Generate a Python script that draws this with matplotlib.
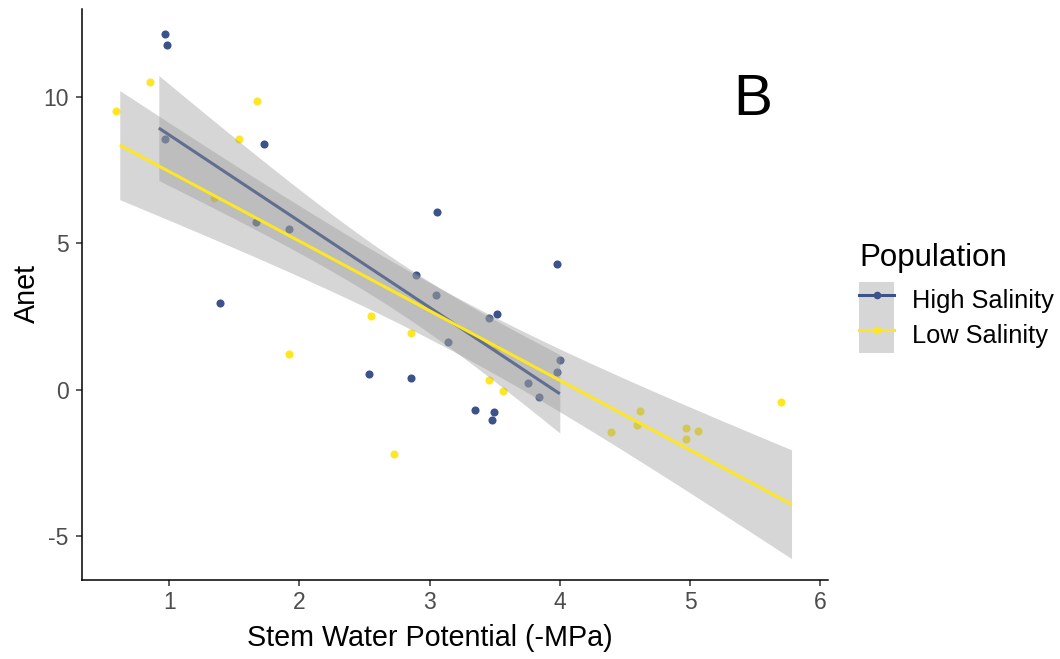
import numpy as np
import matplotlib
matplotlib.use("Agg")
import matplotlib.pyplot as plt
from matplotlib.lines import Line2D
from matplotlib.patches import Patch
from matplotlib.legend_handler import HandlerTuple

plt.rcParams['font.family'] = ['Liberation Sans', 'DejaVu Sans']
plt.rcParams['axes.unicode_minus'] = False

# High Salinity population
high_x = [0.97, 0.98, 0.97, 1.73, 1.665, 1.923, 1.39, 2.893, 3.057, 3.047, 3.139,
          3.517, 3.458, 3.978, 4.00, 3.98, 3.755, 3.837, 2.535, 2.855, 3.351, 3.494, 3.481]
high_y = [12.13, 11.77, 8.56, 8.40, 5.71, 5.50, 2.97, 3.91, 6.07, 3.23, 1.64,
          2.60, 2.44, 4.29, 1.02, 0.59, 0.23, -0.25, 0.55, 0.41, -0.71, -0.76, -1.04]

# Low Salinity population
low_x = [0.59, 0.85, 1.675, 1.535, 1.343, 2.548, 2.855, 1.923, 3.458, 3.563, 2.724,
         3.51, 4.39, 4.592, 4.615, 4.968, 5.065, 4.968, 5.70]
low_y = [9.51, 10.50, 9.87, 8.56, 6.55, 2.50, 1.92, 1.23, 0.33, -0.03, -2.20,
         1.43, -1.46, -1.20, -0.72, -1.30, -1.40, -1.68, -0.41]

# x span of each fitted smooth
high_span = [0.92, 4.00]
low_span = [0.62, 5.78]

groups = ["High Salinity", "Low Salinity"]
colors = {"High Salinity": "#3B528B", "Low Salinity": "#FDE725"}
band_col = "#999999"


def t_quant(df, z=1.644854):
    # Cornish-Fisher approximation of the t quantile (90% band)
    return (z + (z**3 + z) / (4 * df)
            + (5 * z**5 + 16 * z**3 + 3 * z) / (96 * df**2))


def lm_band(x, y, span, n=80):
    x = np.asarray(x)
    y = np.asarray(y)
    b1, b0 = np.polyfit(x, y, 1)
    resid = y - (b0 + b1 * x)
    dof = len(x) - 2
    s = np.sqrt(np.sum(resid**2) / dof)
    sxx = np.sum((x - x.mean())**2)
    xs = np.linspace(span[0], span[1], n)
    fit = b0 + b1 * xs
    se = s * np.sqrt(1 / len(x) + (xs - x.mean())**2 / sxx)
    t = t_quant(dof)
    return xs, fit, fit - t * se, fit + t * se


W, H = 1060, 659
fig = plt.figure(figsize=(W / 100, H / 100), dpi=100)
ax = fig.add_axes([82 / W, 1 - 580 / H, (828 - 82) / W, (580 - 9) / H])

ax.scatter(high_x, high_y, s=34, color=colors["High Salinity"], linewidths=0, zorder=2)
ax.scatter(low_x, low_y, s=34, color=colors["Low Salinity"], linewidths=0, zorder=2)

z = 3
for name, xv, yv, span in [("High Salinity", high_x, high_y, high_span),
                           ("Low Salinity", low_x, low_y, low_span)]:
    xs, fit, lo, hi = lm_band(xv, yv, span)
    ax.fill_between(xs, lo, hi, color=band_col, alpha=0.4, linewidth=0, zorder=z)
    ax.plot(xs, fit, color=colors[name], linewidth=2.2, zorder=z + 1,
            solid_capstyle='butt')
    z += 2

ax.text(5.48, 9.9, "B", fontsize=42, ha='center', va='center', color='black', zorder=10)

ax.set_xlim(0.33, 6.06)
ax.set_ylim(-6.5, 13.0)
ax.set_xticks([1, 2, 3, 4, 5, 6])
ax.set_yticks([-5, 0, 5, 10])
ax.spines['top'].set_visible(False)
ax.spines['right'].set_visible(False)
for sp in ['left', 'bottom']:
    ax.spines[sp].set_linewidth(1.1)
    ax.spines[sp].set_color('black')
ax.tick_params(axis='both', length=4.5, width=1.1, color='#333333',
               labelcolor='#4D4D4D', labelsize=16.5, pad=3.5)
ax.tick_params(axis='y', pad=5.2)

fig.text(430 / W, 1 - 645.5 / H, "Stem Water Potential (-MPa)", fontsize=20.7,
         ha='center', va='baseline', color='black')
fig.text(26.5 / W, 1 - 294 / H, "Anet", fontsize=20.7, rotation=90,
         ha='center', va='center', color='black')

handles = []
for name in groups:
    bg = Patch(facecolor="#D6D6D6", edgecolor='none')
    ln = Line2D([], [], color=colors[name], linewidth=2.2, marker='o', markersize=5.5,
                markeredgewidth=0)
    handles.append((bg, ln))
leg = fig.legend(handles, groups, handler_map={tuple: HandlerTuple(ndivide=1, pad=0)},
                 loc='upper left', bbox_to_anchor=(859 / W, 1 - 243 / H),
                 frameon=False, fontsize=18.3, title="Population", title_fontsize=22.5,
                 handlelength=1.38, handleheight=1.76, labelspacing=0.0, handletextpad=0.72,
                 borderpad=0.0, borderaxespad=0.0)
leg._legend_box.align = "left"
leg._legend_box.sep = 6.5

fig.savefig("out.png", dpi=100)
